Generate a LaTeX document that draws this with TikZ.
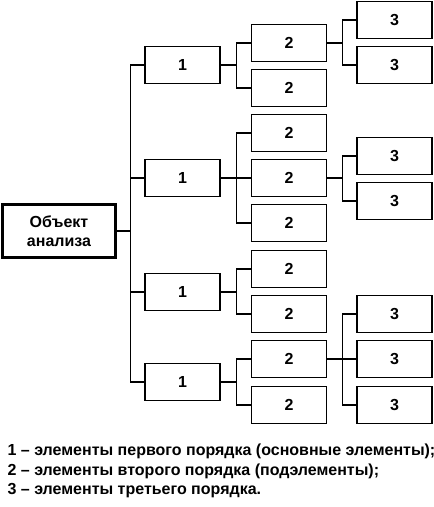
\documentclass[tikz,border=0pt]{standalone}
\usepackage{fontspec}
\setmainfont{Liberation Sans}
\begin{document}
\begin{tikzpicture}[x=1pt, y=-1pt, line width=1.2pt,
  every node/.style={font=\bfseries\fontsize{16}{19.5}\selectfont},
  elem/.style={draw, fill=white, minimum width=75pt, minimum height=37pt, inner sep=0pt},
  rootbox/.style={draw, fill=white, line width=2.6pt, minimum width=113pt, minimum height=53pt, align=center, inner sep=0pt},
  legend/.style={anchor=base west, font=\bfseries\fontsize{16}{19}\selectfont, inner sep=0pt}]
\useasboundingbox (0,0) rectangle (434,507);
% object and first order
\node[rootbox] (root) at (59,231) {Объект\\анализа};
\node[elem] (a1) at (182.5,65) {1};
\node[elem] (a2) at (182.5,178) {1};
\node[elem] (a3) at (182.5,292) {1};
\node[elem] (a4) at (182.5,382) {1};
% second order
\node[elem] (b11) at (289,43) {2};
\node[elem] (b12) at (289,88) {2};
\node[elem] (b21) at (289,133) {2};
\node[elem] (b22) at (289,178) {2};
\node[elem] (b23) at (289,223) {2};
\node[elem] (b31) at (289,269) {2};
\node[elem] (b32) at (289,314) {2};
\node[elem] (b41) at (289,359) {2};
\node[elem] (b42) at (289,405) {2};
% third order
\node[elem] (c111) at (394.5,20) {3};
\node[elem] (c112) at (394.5,65) {3};
\node[elem] (c221) at (394.5,156) {3};
\node[elem] (c222) at (394.5,201) {3};
\node[elem] (c411) at (394.5,314) {3};
\node[elem] (c412) at (394.5,359) {3};
\node[elem] (c413) at (394.5,405) {3};
% connectors
\foreach \c in {a1,a2,a3,a4}
  \draw (root.east) -- ++(14,0) |- (\c.west);
\foreach \p/\c in {a1/b11, a1/b12, a2/b21, a2/b22, a2/b23, a3/b31, a3/b32, a4/b41, a4/b42}
  \draw (\p.east) -- ++(16,0) |- (\c.west);
\foreach \p/\c in {b11/c111, b11/c112, b22/c221, b22/c222, b41/c411, b41/c412, b41/c413}
  \draw (\p.east) -- ++(15,0) |- (\c.west);
% legend
\node[legend] (l1) at (7,455) {1 – элементы первого порядка (основные элементы);};
\node[legend] (l2) at (7,475) {2 – элементы второго порядка (подэлементы);};
\node[legend] (l3) at (7,494.5) {3 – элементы третьего порядка.};
\end{tikzpicture}
\end{document}
